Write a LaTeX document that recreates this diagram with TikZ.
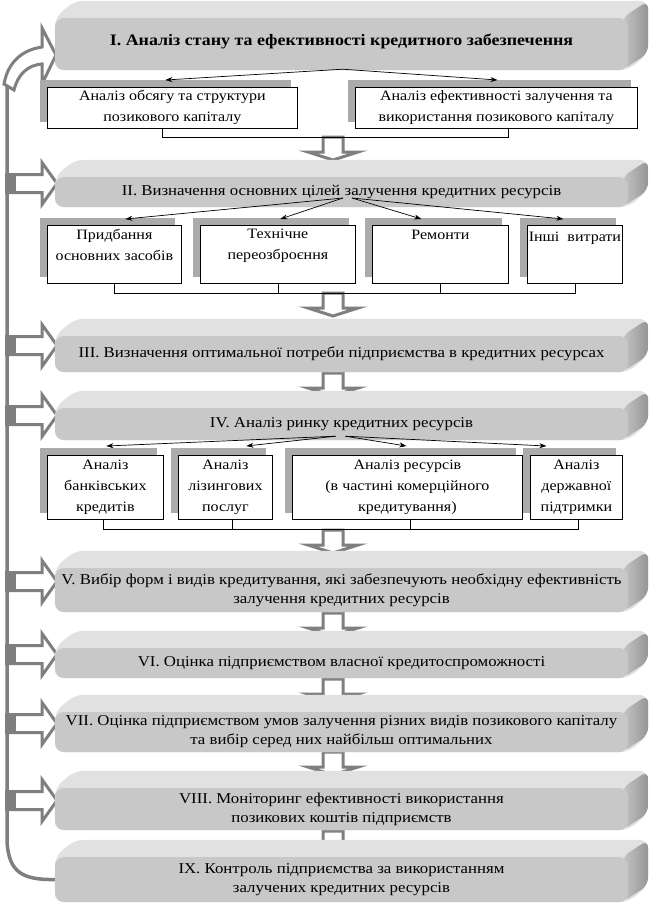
\documentclass[tikz,border=0pt]{standalone}
\usepackage{fontspec}
\setmainfont{Liberation Serif}[FakeStretch=1.12]
\usetikzlibrary{calc,arrows.meta}
\pgfdeclarelayer{whitebg}
\pgfdeclarelayer{arrowlayer}
\pgfdeclarelayer{bevellayer}
\pgfsetlayers{whitebg,arrowlayer,bevellayer,main}
\definecolor{facegray}{HTML}{C8C8C8}
\definecolor{topgray}{HTML}{E1E1E1}
\definecolor{sidelight}{HTML}{C6C6C6}
\definecolor{sidedark}{HTML}{959595}
\definecolor{arrgray}{HTML}{7F7F7F}
\definecolor{shadgray}{HTML}{ABABAB}
\tikzset{
  stagefront/.style={rounded corners=9pt, fill=facegray, minimum width=573pt, align=center, inner sep=0pt, font=\fontsize{15}{19}\selectfont},
  subbox/.style={draw=black, line width=0.8pt, fill=white, inner sep=0pt, anchor=north west},
  boxtext/.style={align=center, inner sep=0pt, font=\fontsize{14.3}{21}\selectfont},
  thinarr/.style={-{Stealth[length=7pt,width=5pt]}, line width=0.7pt},
  bracket/.style={line width=0.7pt},
  blockarr/.style={draw=arrgray, line width=3pt, fill=white, line join=miter},
  feedline/.style={draw=arrgray, line width=3.5pt},
}
\newcommand{\mkstage}[5]{%
  \node[stagefront, minimum height=#3pt, #4] (#1) at (341.5,#2) {#5};
  \begin{pgfonlayer}{bevellayer}
    \fill[topgray, rounded corners=9pt] (#1.south west) -- (#1.north west) -- ($(#1.north west)+(20,-17)$) -- ($(#1.north east)+(20,-17)$) -- ($(#1.south east)+(20,-17)$) -- (#1.south east) -- cycle;
    \shade[left color=sidelight, right color=sidedark, rounded corners=8pt] ($(#1.north east)+(-6,0)$) -- ($(#1.north east)+(20,-17)$) -- ($(#1.south east)+(20,-17)$) -- ($(#1.south east)+(-6,0)$) -- cycle;
  \end{pgfonlayer}}
\newcommand{\mkbox}[5]{%
  \node[subbox, minimum width=#4pt, minimum height=#5pt] (#1) at (#2,#3) {};
  \begin{pgfonlayer}{bevellayer}
    \fill[shadgray] ($(#1.north west)+(-7,-7)$) rectangle ($(#1.south east)+(-7,-7)$);
  \end{pgfonlayer}}
\newcommand{\downblk}[1]{%
  \begin{pgfonlayer}{arrowlayer}
    \path[blockarr] ($(#1)+(-10,0)$) -- ($(#1)+(10,0)$) -- ($(#1)+(10,15)$) -- ($(#1)+(25,15)$) -- ($(#1)+(0,23)$) -- ($(#1)+(-25,15)$) -- ($(#1)+(-10,15)$) -- cycle;
  \end{pgfonlayer}}
\newcommand{\leftblk}[1]{%
  \coordinate (#1-l) at ($(#1.west -| fx)+(0,-8.5)$);
  \begin{pgfonlayer}{arrowlayer}
    \path[blockarr] ($(#1-l)+(0,-9)$) -- ($(#1-l)+(35,-9)$) -- ($(#1-l)+(35,-21)$) -- ($(#1-l)+(50,0)$) -- ($(#1-l)+(35,21)$) -- ($(#1-l)+(35,9)$) -- ($(#1-l)+(0,9)$) -- cycle;
    \fill[arrgray] ($(#1-l)+(-2,-10.5)$) rectangle ($(#1-l)+(9,10.5)$);
  \end{pgfonlayer}}
\begin{document}
\begin{tikzpicture}[x=1pt,y=-1pt]
\useasboundingbox (0,0) rectangle (651,906);
\begin{pgfonlayer}{whitebg}
\fill[white] (0,0) rectangle (651,906);
\end{pgfonlayer}
\coordinate (fx) at (7,0);

% stages
\mkstage{s1}{44}{52}{font={\fontsize{16}{19}\selectfont\bfseries}, text depth=8pt}{I. Аналіз стану та ефективності кредитного забезпечення}
\mkstage{s2}{192}{30}{}{II. Визначення основних цілей залучення кредитних ресурсів}
\mkstage{s3}{354}{36}{}{III. Визначення оптимальної потреби підприємства в кредитних ресурсах}
\mkstage{s4}{424}{32}{}{IV. Аналіз ринку кредитних ресурсів}
\mkstage{s5}{590}{44}{}{V. Вибір форм і видів кредитування, які забезпечують необхідну ефективність\\залучення кредитних ресурсів}
\mkstage{s6}{663}{30}{}{VI. Оцінка підприємством власної кредитоспроможності}
\mkstage{s7}{732}{40}{}{VII. Оцінка підприємством умов залучення різних видів позикового капіталу\\та вибір серед них найбільш оптимальних}
\mkstage{s8}{809}{42}{}{VIII. Моніторинг ефективності використання\\позикових коштів підприємств}
\mkstage{s9}{879.5}{45}{}{IX. Контроль підприємства за використанням\\залучених кредитних ресурсів}

% sub-boxes of stage I
\mkbox{b1a}{47}{87}{250}{41}
\mkbox{b1b}{355}{87}{282}{41}
\node[boxtext] (t1a) at (b1a.center) {Аналіз обсягу та структури\\позикового капіталу};
\node[boxtext] (t1b) at (b1b.center) {Аналіз ефективності залучення та\\використання позикового капіталу};
\coordinate (o1) at ($(s1.south)+(1,-1)$);
\draw[thinarr] (o1) -- ($(b1a.north)+(-7,-7)$);
\draw[thinarr] (o1) -- ($(b1b.north)+(1,-7)$);
\draw[bracket] ($(b1a.south)+(-10,0)$) -- ++(0,9) -| ($(b1b.south)+(12,0)$);

% sub-boxes of stage II
\mkbox{b2a}{47}{225}{134}{58}
\mkbox{b2b}{200}{225}{155}{58}
\mkbox{b2c}{372}{225}{136}{58}
\mkbox{b2d}{527}{225}{95}{58}
\node[boxtext, anchor=north] (t2a) at ($(b2a.north)+(0,4)$) {Придбання\\основних засобів};
\node[boxtext, anchor=north] (t2b) at ($(b2b.north)+(0,4)$) {Технічне\\переозброєння};
\node[boxtext, anchor=north] (t2c) at ($(b2c.north)+(0,5)$) {Ремонти};
\node[boxtext, anchor=north] (t2d) at ($(b2d.north)+(0,7)$) {Інші\ \ витрати};
\coordinate (o2l) at ($(s2.center)+(1.5,6)$);
\coordinate (o2r) at ($(s2.center)+(10.5,6)$);
\draw[thinarr] (o2l) -- ($(b2a.north)+(11,-6)$);
\draw[thinarr] (o2l) -- ($(b2b.north)+(2.5,-6)$);
\draw[thinarr] (o2r) -- ($(b2c.north)+(-19,-6)$);
\draw[thinarr] (o2r) -- ($(b2d.north)+(-11.5,-6)$);
\draw[bracket] (b2a.south) -- ++(0,10) -| (b2d.south);
\draw[bracket] (b2b.south) -- ++(0,10);
\draw[bracket] (b2c.south) -- ++(0,10);

% sub-boxes of stage IV
\mkbox{b4a}{47}{455}{116}{64}
\mkbox{b4b}{178}{455}{94}{64}
\mkbox{b4c}{292}{455}{230}{64}
\mkbox{b4d}{530}{455}{92}{64}
\node[boxtext] (t4a) at (b4a.center) {Аналіз\\банківських\\кредитів};
\node[boxtext] (t4b) at (b4b.center) {Аналіз\\лізингових\\послуг};
\node[boxtext] (t4c) at (b4c.center) {Аналіз ресурсів\\(в частині комерційного\\кредитування)};
\node[boxtext] (t4d) at (b4d.center) {Аналіз\\державної\\підтримки};
\coordinate (o4l) at ($(s4.south)+(-6,-4)$);
\coordinate (o4r) at ($(s4.south)+(4,-4)$);
\draw[thinarr] (o4l) -- ($(b4a.north)+(1,-9)$);
\draw[thinarr] (o4l) -- ($(b4b.north)+(21,-9)$);
\draw[thinarr] (o4r) -- ($(b4c.north)+(-1,-9)$);
\draw[thinarr] (o4r) -- ($(b4d.north)+(-30,-9)$);
\draw[bracket] ($(b4a.south)+(-2,0)$) -- ++(0,10) -| ($(b4d.south)+(2,0)$);
\draw[bracket] ($(b4b.south)+(7,0)$) -- ++(0,10);
\draw[bracket] ($(b4c.south)+(3,0)$) -- ++(0,10);

% down block arrows
\coordinate (a1) at (333,137);
\coordinate (a2) at (333,293);
\coordinate (a3) at (333,373);
\coordinate (a4) at (333,530);
\coordinate (a5) at (333,613);
\coordinate (a6) at (333,679);
\coordinate (a7) at (333,752);
\coordinate (a8) at (333,831);
\downblk{a1}\downblk{a2}\downblk{a3}\downblk{a4}
\downblk{a5}\downblk{a6}\downblk{a7}\downblk{a8}

% feedback line and side arrows
\leftblk{s2}\leftblk{s3}\leftblk{s4}\leftblk{s5}\leftblk{s6}\leftblk{s7}\leftblk{s8}
\coordinate (ftop) at (7,86);
\coordinate (fbot) at (7,842);
\begin{pgfonlayer}{arrowlayer}
\draw[feedline] (ftop) -- (fbot) .. controls (9,872) and (22,880) .. (s9.west);
\path[blockarr] (4,84) .. controls (8,62) and (22,50) .. (42,47) -- (42,28) -- (56,55) -- (42,84) -- (42,64) .. controls (28,65) and (18,74) .. (14,90) -- cycle;
\end{pgfonlayer}
\end{tikzpicture}
\end{document}
